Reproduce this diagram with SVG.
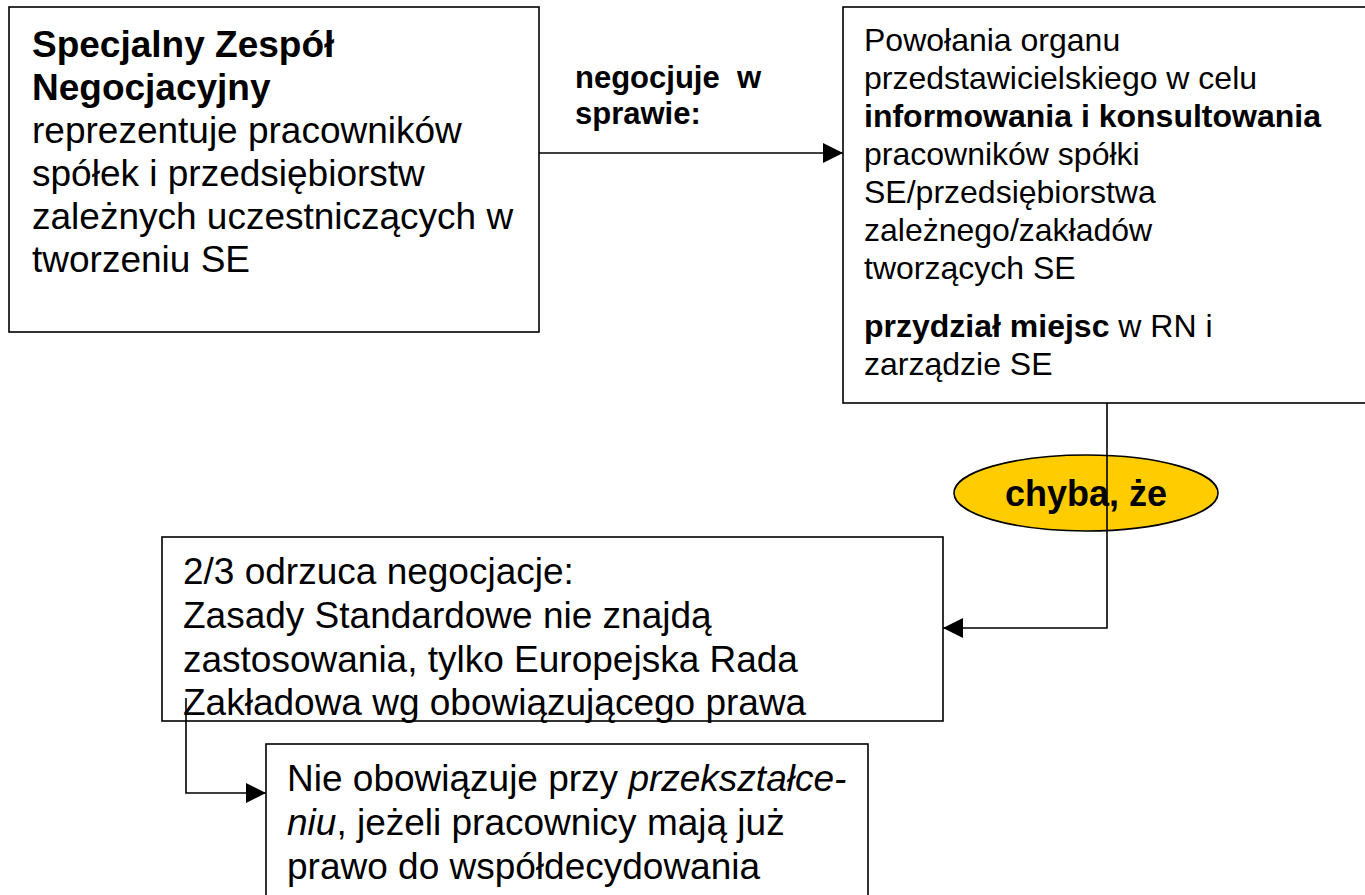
<svg xmlns="http://www.w3.org/2000/svg" width="1365" height="895" viewBox="0 0 1365 895">
<style>
  .box { fill: #ffffff; stroke: #000000; stroke-width: 1.6; }
  .t { font-family: "Liberation Sans", Arial, sans-serif; fill: #000000; }
  .t37 { font-size: 37px; }
  .t32 { font-size: 32px; }
  .b { font-weight: bold; }
  .i { font-style: italic; }
  .conn { fill: none; stroke: #000000; stroke-width: 1.6; }
</style>
<defs>
  <marker id="arrow" markerWidth="20" markerHeight="20" refX="20" refY="10" orient="auto" markerUnits="userSpaceOnUse">
    <path d="M0,0 L20,10 L0,20 Z" fill="#000000"/>
  </marker>
</defs>
<rect width="1365" height="895" fill="#ffffff"/>

<g id="node-sen">
  <rect class="box" x="9" y="7" width="530" height="325"/>
  <text class="t t37" x="32">
    <tspan class="b" x="32" y="57">Specjalny Zespół</tspan>
    <tspan class="b" x="32" y="100">Negocjacyjny</tspan>
    <tspan x="32" y="143">reprezentuje pracowników</tspan>
    <tspan x="32" y="186">spółek i przedsiębiorstw</tspan>
    <tspan x="32" y="229">zależnych uczestniczących w</tspan>
    <tspan x="32" y="272">tworzeniu SE</tspan>
  </text>
</g>

<g id="node-powolania">
  <rect class="box" x="843" y="7" width="540" height="396"/>
  <text class="t t32">
    <tspan x="864" y="51">Powołania organu</tspan>
    <tspan x="864" y="89">przedstawicielskiego w celu</tspan>
    <tspan class="b" x="864" y="127">informowania i konsultowania</tspan>
    <tspan x="864" y="165">pracowników spółki</tspan>
    <tspan x="864" y="203">SE/przedsiębiorstwa</tspan>
    <tspan x="864" y="241">zależnego/zakładów</tspan>
    <tspan x="864" y="279">tworzących SE</tspan>
    <tspan x="864" y="337"><tspan class="b">przydział miejsc</tspan> w RN i</tspan>
    <tspan x="864" y="375">zarządzie SE</tspan>
  </text>
</g>

<g id="node-odrzuca">
  <rect class="box" x="162" y="537" width="781" height="184"/>
  <text class="t t37">
    <tspan x="183" y="584">2/3 odrzuca negocjacje:</tspan>
    <tspan x="183" y="628">Zasady Standardowe nie znajdą</tspan>
    <tspan x="183" y="672">zastosowania, tylko Europejska Rada</tspan>
    <tspan x="183" y="715">Zakładowa wg obowiązującego prawa</tspan>
  </text>
</g>

<g id="node-nieobowiazuje">
  <rect class="box" x="266" y="744" width="602" height="170"/>
  <text class="t t37">
    <tspan x="287" y="791">Nie obowiązuje przy <tspan class="i">przekształce-</tspan></tspan>
    <tspan x="287" y="835"><tspan class="i">niu</tspan>, jeżeli pracownicy mają już</tspan>
    <tspan x="287" y="879">prawo do współdecydowania</tspan>
  </text>
</g>

<g id="connectors">
  <line class="conn" x1="539" y1="153" x2="843" y2="153" marker-end="url(#arrow)"/>
  <text class="t b" font-size="31" x="575" y="88" style="white-space:pre">negocjuje  w</text>
  <text class="t b" font-size="31" x="575" y="124">sprawie:</text>
  <g id="label-chyba">
    <ellipse cx="1086" cy="493" rx="132" ry="38" fill="#ffcc00" stroke="#000000" stroke-width="1.6"/>
    <text class="t b" font-size="36" x="1086" y="506" text-anchor="middle">chyba, że</text>
  </g>
  <polyline class="conn" points="1107,403 1107,628 943,628" marker-end="url(#arrow)"/>
  <polyline class="conn" points="186,698 186,793 266,793" marker-end="url(#arrow)"/>
</g>
</svg>
